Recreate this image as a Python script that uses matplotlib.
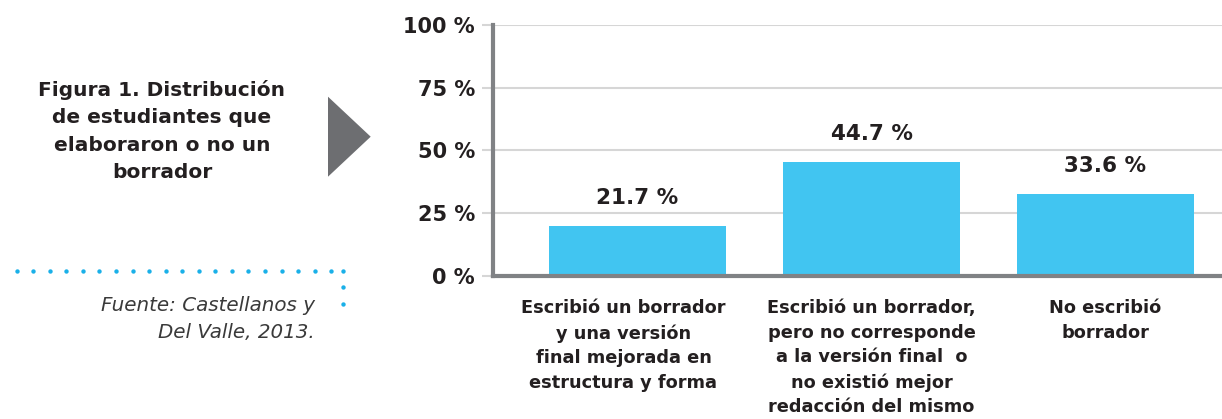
import numpy as np
import matplotlib
matplotlib.use("Agg")
import matplotlib.pyplot as plt
import matplotlib.transforms as mtransforms
from matplotlib.patches import Polygon

plt.rcParams['font.family'] = ['DejaVu Sans']

# data
categories = [
    "Escribió un borrador\ny una versión\nfinal mejorada en\nestructura y forma",
    "Escribió un borrador,\npero no corresponde\na la versión final  o\nno existió mejor\nredacción del mismo",
    "No escribió\nborrador",
]
bar_heights = [19.9, 45.5, 32.7]        # heights as drawn
value_labels = ["21.7 %", "44.7 %", "33.6 %"]
y_ticks = [0, 25, 50, 75, 100]
y_tick_labels = ["0 %", "25 %", "50 %", "75 %", "100 %"]

caption = "Figura 1. Distribución\nde estudiantes que\nelaboraron o no un\nborrador"
source = "Fuente: Castellanos y\nDel Valle, 2013."

DARK = '#231f20'
BAR = '#41c5f1'
AXIS = '#808285'
GRID = '#d6d6d6'
CYAN = '#1ab0e8'

W, H = 1222, 419
fig = plt.figure(figsize=(W / 100, H / 100), dpi=100)

### main bar chart
ax = fig.add_axes([493 / W, 1 - 275.7 / H, 1 - 493 / W, (275.7 - 25) / H])
x = np.arange(len(categories))
ax.bar(x, bar_heights, width=0.756, color=BAR, zorder=3)
ax.set_xlim(-0.6175, 2.498)
ax.set_ylim(0, 100)

ax.set_yticks(y_ticks)
ax.set_yticklabels(y_tick_labels, fontsize=15, fontweight='bold', color=DARK)
ax.tick_params(axis='y', length=8, width=1.5, color=GRID, pad=5)
ax.yaxis.grid(True, color=GRID, linewidth=1.5, zorder=0)
ax.set_axisbelow(True)

ax.set_xticks(x)
ax.set_xticklabels(categories, fontsize=12.8, fontweight='bold', color=DARK,
                   linespacing=1.47, va='top')
ax.tick_params(axis='x', length=0, pad=17)
# the first category text sits a little left of its bar in the original
lab0 = ax.get_xticklabels()[0]
lab0.set_transform(lab0.get_transform() +
                   mtransforms.ScaledTranslation(-14 / 100, 0, fig.dpi_scale_trans))

for s in ['top', 'right']:
    ax.spines[s].set_visible(False)
for s in ['left', 'bottom']:
    ax.spines[s].set_color(AXIS)
    ax.spines[s].set_linewidth(3)
    ax.spines[s].set_zorder(4)

### value labels above bars
for xi, h, lab in zip(x, bar_heights, value_labels):
    ax.annotate(lab, (xi, h), xytext=(0, 13), textcoords='offset points',
                ha='center', va='bottom', fontsize=15.5, fontweight='bold',
                color=DARK)

### decorations on the left, in pixel coordinates
deco = fig.add_axes([0, 0, 1, 1], zorder=-1)
deco.set_xlim(0, W)
deco.set_ylim(H, 0)
deco.axis('off')

deco.text(162, 131, caption, ha='center', va='center', fontsize=14.5,
          fontweight='bold', color=DARK, linespacing=1.55)

tri = Polygon([[328, 96.7], [328, 176.7], [370.7, 136.7]], closed=True,
              facecolor='#6d6e71', edgecolor='none')
deco.add_patch(tri)

# dotted line
dots_x = list(np.arange(16.7, 332, 16.55)) + [343]
deco.scatter(dots_x, [270.7] * len(dots_x), s=10, color=CYAN, linewidths=0)
deco.scatter([343, 343], [287.3, 304], s=10, color=CYAN, linewidths=0)

deco.text(315, 319, source, ha='right', va='center', fontsize=14.3,
          style='italic', color='#3a3a3a', linespacing=1.5)

fig.savefig('out.png', dpi=100)
